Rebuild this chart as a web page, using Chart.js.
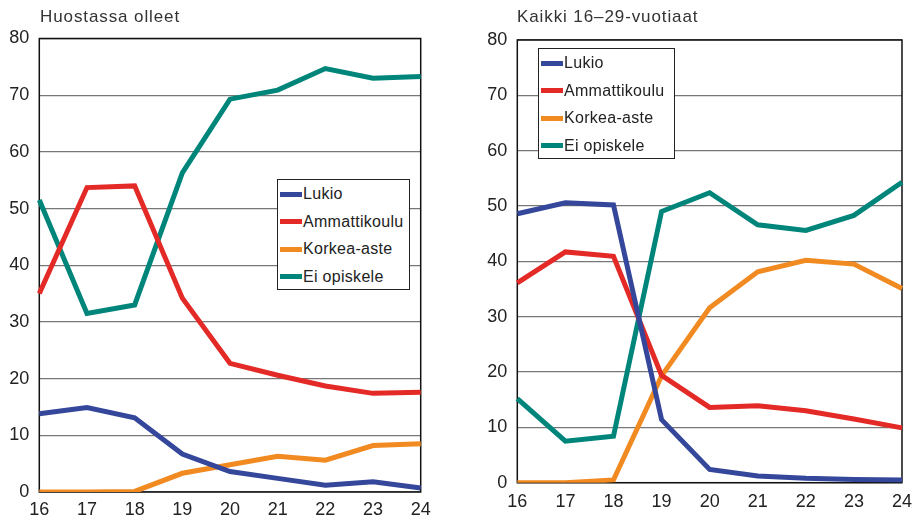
<!DOCTYPE html>
<html>
<head>
<meta charset="utf-8">
<script src="https://cdn.jsdelivr.net/npm/chart.js@4/dist/chart.umd.min.js"></script>
<style>
    body { margin: 0; background: #fff; font-family: "Liberation Sans", Arial, sans-serif; }
    #page { position: relative; width: 921px; height: 519px; overflow: hidden; }
    .panel { position: absolute; top: 0; height: 519px; }
    .title { position: absolute; top: 7px; font-size: 17px; letter-spacing: 0.9px; color: #333; white-space: nowrap; }
    .legend { position: absolute; border: 1.5px solid #222; background: #fff; box-sizing: border-box; }
    .legend-item { position: absolute; left: 2px; height: 20px; display: flex; align-items: center; font-size: 16px; letter-spacing: 0.3px; color: #222; white-space: nowrap; }
    .legend-item span.swatch { display: inline-block; width: 22px; height: 5px; margin-right: 1px; }
</style>
</head>
<body>
<div id="page">
    <div class="panel" style="left:0; width:460px;">
        <canvas id="leftChart" width="460" height="519"></canvas>
        <div class="title" style="left:40px;">Huostassa olleet</div>
        <div class="legend" id="leftLegend" style="left:277px; top:179px; width:133px; height:111px;"></div>
    </div>
    <div class="panel" style="left:460px; width:461px;">
        <canvas id="rightChart" width="461" height="519"></canvas>
        <div class="title" style="left:57px;">Kaikki 16–29-vuotiaat</div>
        <div class="legend" id="rightLegend" style="left:78px; top:48px; width:137px; height:111px;"></div>
    </div>
</div>
<script>
let ages = ['16', '17', '18', '19', '20', '21', '22', '23', '24'];
let seriesNames = ['Lukio', 'Ammattikoulu', 'Korkea-aste', 'Ei opiskele'];
let seriesColors = ['#34479a', '#e42a26', '#f28a22', '#00857b'];
let yTicks = [0, 10, 20, 30, 40, 50, 60, 70, 80];

// Huostassa olleet
let lukioHuostassa = [13.8, 14.9, 13.1, 6.7, 3.6, 2.4, 1.2, 1.8, 0.7];
let ammattiHuostassa = [35.0, 53.7, 54.0, 34.2, 22.7, 20.6, 18.7, 17.4, 17.6];
let korkeaHuostassa = [0, 0, 0.1, 3.3, 4.8, 6.3, 5.6, 8.2, 8.5];
let eiHuostassa = [51.5, 31.5, 33.0, 56.3, 69.3, 70.9, 74.7, 73.0, 73.3];

// Kaikki 16-29-vuotiaat
let lukioKaikki = [48.6, 50.6, 50.2, 11.4, 2.4, 1.2, 0.8, 0.6, 0.5];
let ammattiKaikki = [36.1, 41.7, 40.9, 19.4, 13.6, 13.9, 13.0, 11.5, 9.9];
let korkeaKaikki = [0, 0, 0.5, 19.3, 31.6, 38.1, 40.2, 39.5, 35.1];
let eiKaikki = [15.2, 7.5, 8.4, 49.0, 52.4, 46.6, 45.6, 48.3, 54.3];

let fontFamily = '"Liberation Sans", Arial, sans-serif';

// black frame round the plot area, under the lines
let frameBox = {
    id: 'frameBox',
    beforeDatasetsDraw(chart) {
        let a = chart.chartArea;
        let c = chart.ctx;
        c.save();
        c.strokeStyle = '#111';
        c.lineWidth = 1.5;
        c.strokeRect(a.left, a.top, a.right - a.left, a.bottom - a.top);
        c.restore();
    }
};

function buildDatasets(values) {
    return values.map((data, i) => ({
        label: seriesNames[i],
        data: data,
        borderColor: seriesColors[i],
        backgroundColor: seriesColors[i],
        borderWidth: 5,
        pointRadius: 0,
        tension: 0,
        borderJoinStyle: 'miter',
        fill: false
    }));
}

function renderLineChart(canvasId, values, geo) {
    let ctx = document.getElementById(canvasId).getContext('2d');
    return new Chart(ctx, {
        type: 'line',
        data: { labels: ages, datasets: buildDatasets(values) },
        options: {
            responsive: false,
            animation: false,
            layout: { padding: { left: 0, top: geo.top, right: geo.right, bottom: 0 } },
            plugins: { legend: { display: false }, tooltip: { enabled: false } },
            scales: {
                x: {
                    grid: { display: false, drawTicks: false },
                    border: { display: false },
                    ticks: { color: '#222', font: { family: fontFamily, size: 18 }, padding: geo.xPad, maxRotation: 0, autoSkip: false },
                    afterFit: function(scale) { scale.height = geo.xHeight; }
                },
                y: {
                    min: 0,
                    max: 80,
                    afterBuildTicks: function(scale) { scale.ticks = yTicks.map(v => ({ value: v })); },
                    grid: { color: '#777', lineWidth: 1.2, drawTicks: false },
                    border: { display: false },
                    ticks: { color: '#222', font: { family: fontFamily, size: 18 }, padding: 10 },
                    afterFit: function(scale) { scale.width = geo.yWidth; }
                }
            }
        },
        plugins: [frameBox]
    });
}

function buildLegend(elId, chart) {
    let box = document.getElementById(elId);
    chart.data.datasets.forEach((ds, i) => {
        let item = document.createElement('div');
        item.className = 'legend-item';
        item.style.top = (4 + i * 27.6) + 'px';
        item.innerHTML = '<span class="swatch" style="background:' + ds.borderColor + '"></span>' + ds.label;
        box.appendChild(item);
    });
}

let leftChart = renderLineChart('leftChart',
    [lukioHuostassa, ammattiHuostassa, korkeaHuostassa, eiHuostassa],
    { top: 38.5, right: 39.3, yWidth: 39.3, xHeight: 27, xPad: 7 });
let rightChart = renderLineChart('rightChart',
    [lukioKaikki, ammattiKaikki, korkeaKaikki, eiKaikki],
    { top: 40, right: 11.7, yWidth: 57.3, xHeight: 36.3, xPad: 9 });

buildLegend('leftLegend', leftChart);
buildLegend('rightLegend', rightChart);
</script>
</body>
</html>
